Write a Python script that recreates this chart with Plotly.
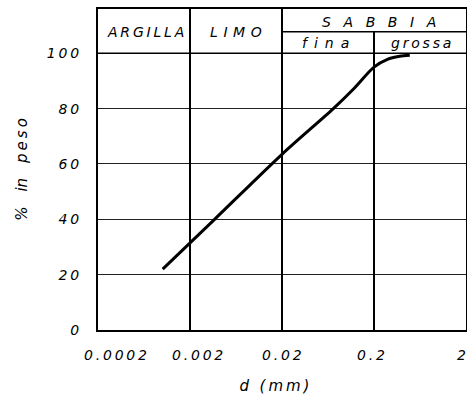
import numpy as np
import plotly.graph_objects as go

# grain-size distribution curve
diam_mm = [0.00101, 0.0037, 0.02, 0.0723, 0.119, 0.2, 0.28, 0.38, 0.49]
pct_weight = [22, 40, 63.5, 80, 87, 95, 97.8, 98.9, 99.3]

x_ticks = [0.0002, 0.002, 0.02, 0.2, 2]
x_tick_labels = ["0.0002", "0.002", "0.02", "0.2", "2"]
y_ticks = [0, 20, 40, 60, 80, 100]
y_tick_labels = ["0", "20", "40", "60", "80", "100"]

T = "\u2009"
E = "\u2002"
Z = "\u200b"
FONT = dict(family="DejaVu Sans", size=14, color="black", style="italic")

fig = go.Figure()
fig.add_trace(go.Scatter(
    x=diam_mm, y=pct_weight, mode="lines",
    line=dict(color="black", width=3, shape="spline", smoothing=0.8),
    hoverinfo="skip", showlegend=False,
))

YTOP = 116
YSUB = 107.8

# frame-internal lines
shapes = []
for xv in [0.002, 0.02]:
    shapes.append(dict(type="line", xref="x", yref="y", x0=xv, x1=xv, y0=0, y1=YTOP,
                       line=dict(color="black", width=2)))
shapes.append(dict(type="line", xref="x", yref="y", x0=0.2, x1=0.2, y0=0, y1=YSUB,
                   line=dict(color="black", width=2)))
shapes.append(dict(type="line", xref="x", yref="y", x0=0.02, x1=2, y0=YSUB, y1=YSUB,
                   line=dict(color="black", width=1.5)))
shapes.append(dict(type="line", xref="x", yref="y", x0=0.0002, x1=2, y0=100, y1=100,
                   line=dict(color="black", width=1.5)))

annotations = []
# header labels: text, left, right, y, xshift
headers = [
    (T.join("ARGILLA"), 0.0002, 0.002, 107.7, 1),
    ((T * 2).join("LIMO"), 0.002, 0.02, 107.7, 0),
    ((E + T * 2).join("SABBIA"), 0.02, 2, 111.4, 5),
    (E.join("fina"), 0.02, 0.2, 103.6, -3),
    (T.join("grossa"), 0.2, 2, 103.6, 1),
]
for txt, a, b, yv, xs in headers:
    annotations.append(dict(x=(np.log10(a) + np.log10(b)) / 2, y=yv, xref="x", yref="y",
                            text=txt, showarrow=False, font=FONT, xshift=xs))
# x tick labels
shifts = [17, 7, 0, -3, -5]
for v, t, s in zip(x_ticks, x_tick_labels, shifts):
    annotations.append(dict(x=np.log10(v), y=0, xref="x", yref="y", text=T.join(t),
                            showarrow=False, font=FONT, yanchor="top", yshift=-15, xshift=s))

fig.update_layout(
    width=467, height=396,
    margin=dict(l=98, r=1, t=9, b=66, autoexpand=False),
    paper_bgcolor="white", plot_bgcolor="white",
    shapes=shapes, annotations=annotations,
    font=FONT,
    xaxis=dict(type="log", range=[np.log10(0.0002), np.log10(2)], showgrid=False,
               showticklabels=False, ticks="", zeroline=False,
               showline=True, mirror=True, linecolor="black", linewidth=2,
               title=dict(text="d" + E + T + "(" + T + "m" + T + "m" + T + ")" + E + E + Z,
                          font=dict(FONT, size=15), standoff=49)),
    yaxis=dict(range=[0, YTOP], tickvals=y_ticks,
               ticktext=[T.join(t) for t in y_tick_labels],
               showgrid=True, gridcolor="#222", gridwidth=1, zeroline=False, ticks="",
               showline=True, mirror=True, linecolor="black", linewidth=2,
               ticklabelstandoff=14, tickfont=FONT,
               title=dict(text="%" + E + E + "in" + E + E + T.join("peso"),
                          font=dict(FONT, size=15), standoff=16)),
)

# remove the default 8px page margin so the figure fills the window exactly
fig.write_html("out.html",
               config={"displayModeBar": False},
               post_script="document.body.style.margin='0';"
                           "document.body.style.overflow='hidden';")
